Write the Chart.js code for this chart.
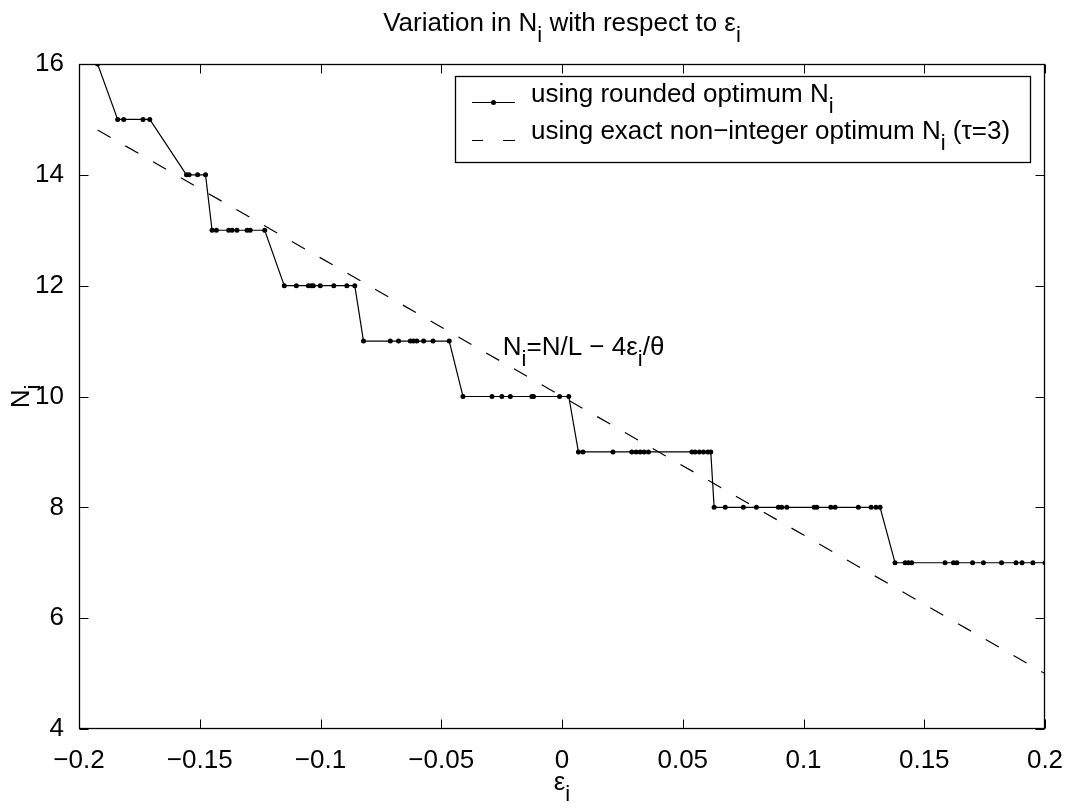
<!DOCTYPE html>
<html>
<head>
<meta charset="utf-8">
<script src="https://cdn.jsdelivr.net/npm/chart.js@4.4.1/dist/chart.umd.min.js"></script>
<style>
	body { margin: 0; background: #fff; }
	#wrap { width: 1072px; height: 808px; }
</style>
</head>
<body>
<div id="wrap"><canvas id="myChart" width="1072" height="808"></canvas></div>
<script>
// ε_i of every point on the rounded curve
const epsRounded = [
	-0.1923,
	-0.1840, -0.1815, -0.1735, -0.1707,
	-0.1555, -0.1544, -0.1509, -0.1476,
	-0.1449, -0.1431, -0.1380, -0.1366, -0.1346, -0.1304, -0.1291, -0.1231,
	-0.1150, -0.1100, -0.1050, -0.1038, -0.1030, -0.1001, -0.0945, -0.0891, -0.0858,
	-0.0822, -0.0711, -0.0677, -0.0628, -0.0615, -0.0601, -0.0573, -0.0534, -0.0467,
	-0.0410, -0.0290, -0.0249, -0.0214, -0.0125, -0.0118, -0.0010, 0.0028,
	0.0068, 0.0087, 0.0211, 0.0289, 0.0307, 0.0324, 0.0340, 0.0358, 0.0538, 0.0551, 0.0569, 0.0586, 0.0604, 0.0616,
	0.0630, 0.0676, 0.0751, 0.0805, 0.0896, 0.0910, 0.0931, 0.1044, 0.1055, 0.1113, 0.1131, 0.1227, 0.1280, 0.1300, 0.1317,
	0.1379, 0.1421, 0.1434, 0.1448, 0.1586, 0.1621, 0.1635, 0.1700, 0.1745, 0.1820, 0.1880, 0.1905, 0.1950, 0.2000
];
// rounded optimum N_i at those points
const nRounded = [
	16,
	15, 15, 15, 15,
	14, 14, 14, 14,
	13, 13, 13, 13, 13, 13, 13, 13,
	12, 12, 12, 12, 12, 12, 12, 12, 12,
	11, 11, 11, 11, 11, 11, 11, 11, 11,
	10, 10, 10, 10, 10, 10, 10, 10,
	9, 9, 9, 9, 9, 9, 9, 9, 9, 9, 9, 9, 9, 9,
	8, 8, 8, 8, 8, 8, 8, 8, 8, 8, 8, 8, 8, 8, 8,
	7, 7, 7, 7, 7, 7, 7, 7, 7, 7, 7, 7, 7, 7
];
// exact non-integer optimum (straight line, two ends)
const epsExact = [-0.1923, 0.2];
const nExact = [14.81, 5.0];

const xTicks = [-0.2, -0.15, -0.1, -0.05, 0, 0.05, 0.1, 0.15, 0.2];
const yTicks = [4, 6, 8, 10, 12, 14, 16];

// texts with subscripts: [text, isSubscript]
const titleParts = [['Variation in N', 0], ['i', 1], [' with respect to \u03b5', 0], ['i', 1]];
const xTitleParts = [['\u03b5', 0], ['i', 1]];
const yTitleParts = [['N', 0], ['i', 1]];
const legendParts = [
	[['using rounded optimum N', 0], ['i', 1]],
	[['using exact non\u2212integer optimum N', 0], ['i', 1], [' (\u03c4=3)', 0]]
];
const noteParts = [['N', 0], ['i', 1], ['=N/L \u2212 4\u03b5', 0], ['i', 1], ['/\u03b8', 0]];
const notePos = { x: -0.0245, y: 10.75 };

const FONT = '"Liberation Sans", Arial, sans-serif';
const SIZE = 26, SUB = 22, SUBSHIFT = 11;

function fmt(v) {
	return String(Math.round(v * 100) / 100).replace('-', '\u2212');
}

//글자 + 아래첨자 그리기
function drawRich(ctx, parts, x, y, align) {
	let w = 0;
	parts.forEach(p => {
		ctx.font = (p[1] ? SUB : SIZE) + 'px ' + FONT;
		w += ctx.measureText(p[0]).width;
	});
	let cx = align === 'center' ? x - w / 2 : x;
	ctx.textAlign = 'left';
	ctx.textBaseline = 'alphabetic';
	parts.forEach(p => {
		ctx.font = (p[1] ? SUB : SIZE) + 'px ' + FONT;
		ctx.fillText(p[0], cx, y + (p[1] ? SUBSHIFT : 0));
		cx += ctx.measureText(p[0]).width;
	});
}

const framePlugin = {
	id: 'frame',
	afterDraw(chart) {
		const { ctx, chartArea: a, scales: { x, y } } = chart;
		const L = Math.round(a.left) + 0.5, R = Math.round(a.right) - 0.5;
		const T = Math.round(a.top) + 0.5, B = Math.round(a.bottom) - 0.5;
		ctx.save();
		ctx.strokeStyle = '#000';
		ctx.fillStyle = '#000';
		ctx.lineWidth = 1.3;
		ctx.strokeRect(L, T, R - L, B - T);
		ctx.lineWidth = 1;
		ctx.beginPath();
		xTicks.forEach(v => {
			const px = Math.round(x.getPixelForValue(v)) + 0.5;
			ctx.moveTo(px, B); ctx.lineTo(px, B - 9);
			ctx.moveTo(px, T); ctx.lineTo(px, T + 9);
		});
		yTicks.forEach(v => {
			const py = Math.round(y.getPixelForValue(v)) + 0.5;
			ctx.moveTo(L, py); ctx.lineTo(L + 9, py);
			ctx.moveTo(R, py); ctx.lineTo(R - 9, py);
		});
		ctx.stroke();

		// title / axis titles
		const cx = (a.left + a.right) / 2;
		drawRich(ctx, titleParts, cx, 31, 'center');
		drawRich(ctx, xTitleParts, cx, 790, 'center');
		ctx.save();
		ctx.translate(29, (a.top + a.bottom) / 2);
		ctx.rotate(-Math.PI / 2);
		drawRich(ctx, yTitleParts, 0, 0, 'center');
		ctx.restore();

		// formula text
		drawRich(ctx, noteParts, x.getPixelForValue(notePos.x), y.getPixelForValue(notePos.y), 'left');

		// legend box
		ctx.fillStyle = '#fff';
		ctx.fillRect(455.5, 76.5, 575, 86);
		ctx.lineWidth = 1.3;
		ctx.strokeRect(455.5, 76.5, 575, 86);
		ctx.lineWidth = 1.2;
		ctx.fillStyle = '#000';
		ctx.beginPath();
		ctx.moveTo(472, 102.5); ctx.lineTo(515, 102.5);
		ctx.stroke();
		ctx.beginPath();
		ctx.arc(493.5, 102.5, 2.5, 0, Math.PI * 2);
		ctx.fill();
		ctx.beginPath();
		ctx.moveTo(472, 140.5); ctx.lineTo(483, 140.5);
		ctx.moveTo(503, 140.5); ctx.lineTo(515, 140.5);
		ctx.stroke();
		drawRich(ctx, legendParts[0], 531, 102, 'left');
		drawRich(ctx, legendParts[1], 531, 139, 'left');
		ctx.restore();
	}
};

const tickFont = { family: FONT, size: SIZE };

const ctxC = document.getElementById('myChart');
const myChart = new Chart(ctxC, {
	type: 'scatter',
	data: {
		datasets: [{
			label: 'using rounded optimum N_i',
			data: epsRounded.map((e, i) => ({ x: e, y: nRounded[i] })),
			showLine: true,
			borderColor: '#000',
			borderWidth: 1.2,
			pointRadius: 2.5,
			pointBackgroundColor: '#000',
			pointBorderWidth: 0,
			pointHoverRadius: 2.5
		}, {
			label: 'using exact non-integer optimum N_i',
			data: epsExact.map((e, i) => ({ x: e, y: nExact[i] })),
			showLine: true,
			borderColor: '#000',
			borderWidth: 1.2,
			borderDash: [15, 17],
			pointRadius: 0
		}]
	},
	options: {
		responsive: false,
		animation: false,
		layout: { padding: { top: 64, right: 27, left: 0, bottom: 0 } },
		plugins: {
			legend: { display: false },
			tooltip: { enabled: false }
		},
		scales: {
			x: {
				type: 'linear',
				min: -0.2,
				max: 0.2,
				afterBuildTicks: s => { s.ticks = xTicks.map(v => ({ value: v })); },
				afterFit: s => { s.height = 79; },
				grid: { display: false },
				border: { display: false },
				ticks: { font: tickFont, color: '#000', padding: 8, maxRotation: 0, autoSkip: false, callback: v => fmt(v) }
			},
			y: {
				min: 4,
				max: 16,
				afterBuildTicks: s => { s.ticks = yTicks.map(v => ({ value: v })); },
				afterFit: s => { s.width = 79; },
				grid: { display: false },
				border: { display: false },
				ticks: { font: tickFont, color: '#000', padding: 7, autoSkip: false, callback: v => fmt(v) }
			}
		}
	},
	plugins: [framePlugin]
});
</script>
</body>
</html>
